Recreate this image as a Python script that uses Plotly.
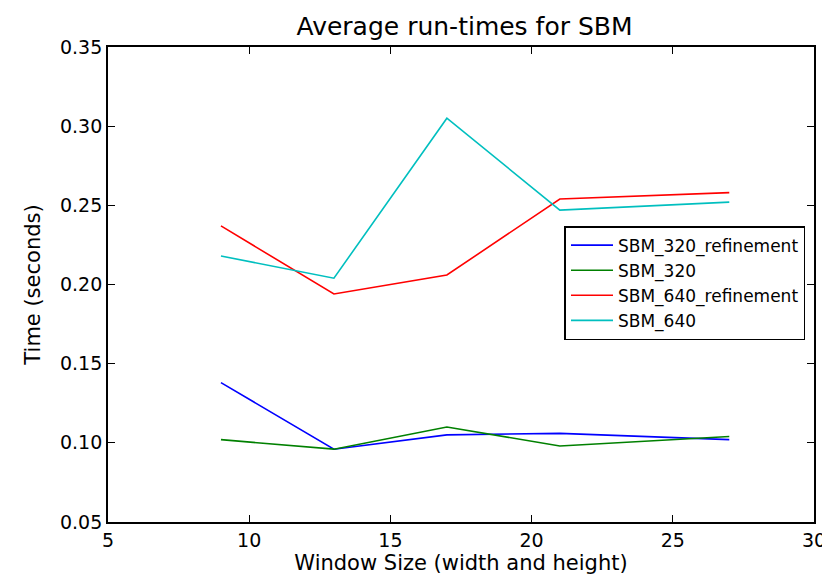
import plotly.graph_objects as go

window_sizes = [9, 13, 17, 21, 27]
sbm_320_refinement = [0.138, 0.096, 0.105, 0.106, 0.102]
sbm_320 = [0.102, 0.096, 0.110, 0.098, 0.104]
sbm_640_refinement = [0.237, 0.194, 0.206, 0.254, 0.258]
sbm_640 = [0.218, 0.204, 0.305, 0.247, 0.252]

series = [
    ("SBM_320_refinement", sbm_320_refinement, "#0000ff"),
    ("SBM_320", sbm_320, "#008000"),
    ("SBM_640_refinement", sbm_640_refinement, "#ff0000"),
    ("SBM_640", sbm_640, "#00bfbf"),
]

fig = go.Figure()
for name, vals, color in series:
    fig.add_trace(go.Scatter(x=window_sizes, y=vals, mode="lines", name=name,
                             line=dict(color=color, width=1.6)))

axis_common = dict(showline=True, linecolor="black", linewidth=1.8, mirror="ticks",
                   ticks="inside", ticklen=7, tickwidth=1, tickcolor="black",
                   showgrid=False, zeroline=False,
                   tickfont=dict(family="DejaVu Sans", size=19, color="black"))

fig.update_layout(
    width=830, height=575,
    margin=dict(l=100, r=14, t=39, b=61),
    paper_bgcolor="white", plot_bgcolor="white",
    title=dict(text="Average run-times for SBM", xref="paper", x=0.505, xanchor="center",
               yref="container", y=0.968, yanchor="middle",
               font=dict(family="DejaVu Sans", size=25, color="black")),
    xaxis=dict(range=[5, 30], dtick=5, tick0=5,
               title=dict(text="Window Size (width and height)", standoff=4,
                          font=dict(family="DejaVu Sans", size=21, color="black")),
               **axis_common),
    yaxis=dict(range=[0.05, 0.35], dtick=0.05, tick0=0.05, tickformat=".2f",
               title=dict(text="Time (seconds)", standoff=14,
                          font=dict(family="DejaVu Sans", size=21, color="black")),
               **axis_common),
    legend=dict(x=0.6466, y=0.623, xanchor="left", yanchor="top",
                bordercolor="black", borderwidth=1.5, bgcolor="white",
                font=dict(family="DejaVu Sans", size=17, color="black"),
                tracegroupgap=0, itemwidth=42),
    showlegend=True,
)

fig.write_html("out.html")
